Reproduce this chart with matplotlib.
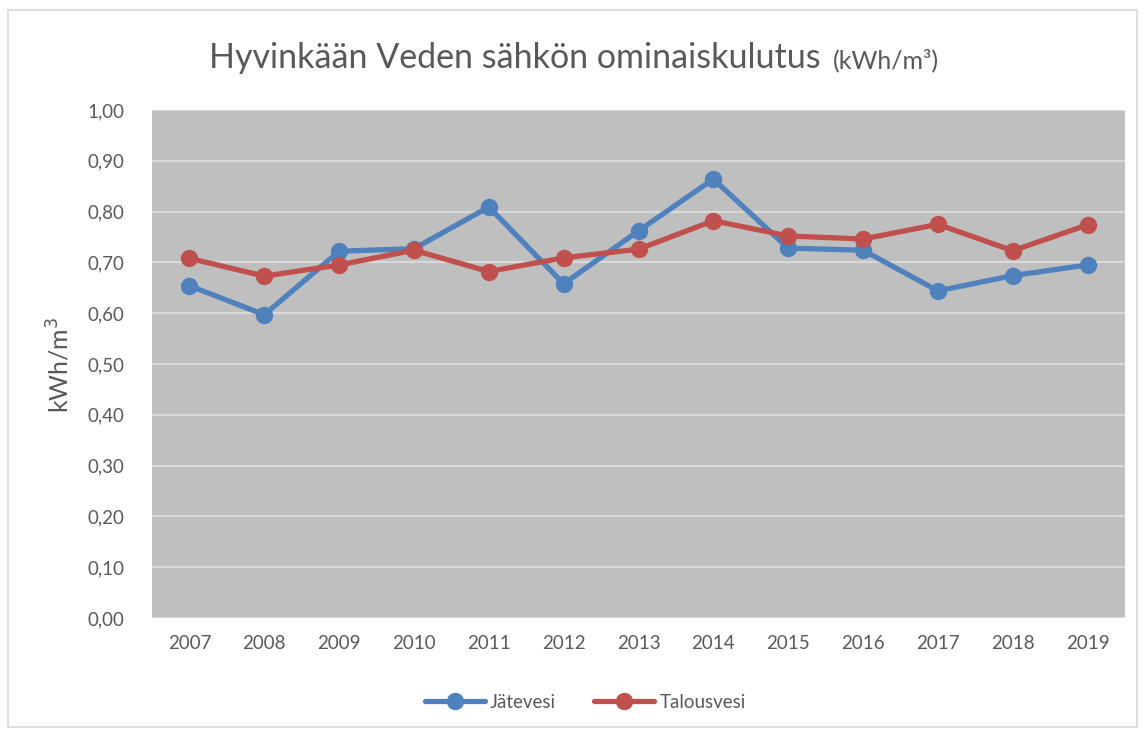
import matplotlib
matplotlib.use("Agg")
import matplotlib.pyplot as plt
from matplotlib.patches import Rectangle

years = ["2007", "2008", "2009", "2010", "2011", "2012", "2013",
         "2014", "2015", "2016", "2017", "2018", "2019"]
jatevesi = [0.654, 0.597, 0.722, 0.727, 0.809, 0.658, 0.762,
            0.864, 0.728, 0.724, 0.644, 0.674, 0.695]
talousvesi = [0.708, 0.673, 0.695, 0.724, 0.682, 0.709, 0.726,
              0.782, 0.752, 0.746, 0.775, 0.723, 0.774]
yticks = [0.0, 0.1, 0.2, 0.3, 0.4, 0.5, 0.6, 0.7, 0.8, 0.9, 1.0]

plt.rcParams['font.family'] = ['Lato', 'DejaVu Sans']
txt = '#595959'

fig = plt.figure(figsize=(11.44, 7.31), dpi=100)
fig.patches.append(Rectangle((8/1144, 1-727/731), 1129/1144, 717/731,
                             transform=fig.transFigure, fill=False,
                             edgecolor='#D9D9D9', linewidth=1.2))

ax = fig.add_axes([152/1144, 1-618/731, 973/1144, 508/731])
ax.set_facecolor('#BFBFBF')
x = list(range(len(years)))
ax.plot(x, jatevesi, color='#4F81BD', lw=3.8, marker='o', ms=11.5,
        label='Jätevesi', solid_capstyle='round')
ax.plot(x, talousvesi, color='#C0504D', lw=3.8, marker='o', ms=11.5,
        label='Talousvesi', solid_capstyle='round')
ax.set_xlim(-0.5, len(years) - 0.5)
ax.set_ylim(0, 1.0)
ax.set_yticks(yticks)
ax.set_yticklabels([f"{v:.2f}".replace('.', ',') for v in yticks])
ax.set_xticks(x)
ax.set_xticklabels(years)
ax.grid(axis='y', color='#D9D9D9', lw=1.5)
ax.set_axisbelow(True)
for s in ax.spines.values():
    s.set_visible(False)
ax.tick_params(length=0, labelsize=13.5, colors=txt, pad=12)
ax.tick_params(axis='y', pad=20)

fig.text(60/1144, 1-365/731, 'kWh/m$^{3}$', rotation=90, fontsize=18,
         color=txt, ha='center', va='center')

fig.text(829/1144, 1-58/731, 'Hyvinkään Veden sähkön ominaiskulutus ', fontsize=24.5,
         color=txt, ha='right', va='center')
fig.text(833/1144, 1-60/731, '(kWh/m³)', fontsize=18, color=txt,
         ha='left', va='center')

leg = fig.legend(loc='center', bbox_to_anchor=(585/1144, 1-702/731), ncol=2,
                 frameon=False, fontsize=13.5, handlelength=3.2,
                 columnspacing=2.0, handletextpad=0.3)
for t in leg.get_texts():
    t.set_color(txt)

fig.savefig('out.png', dpi=100)
